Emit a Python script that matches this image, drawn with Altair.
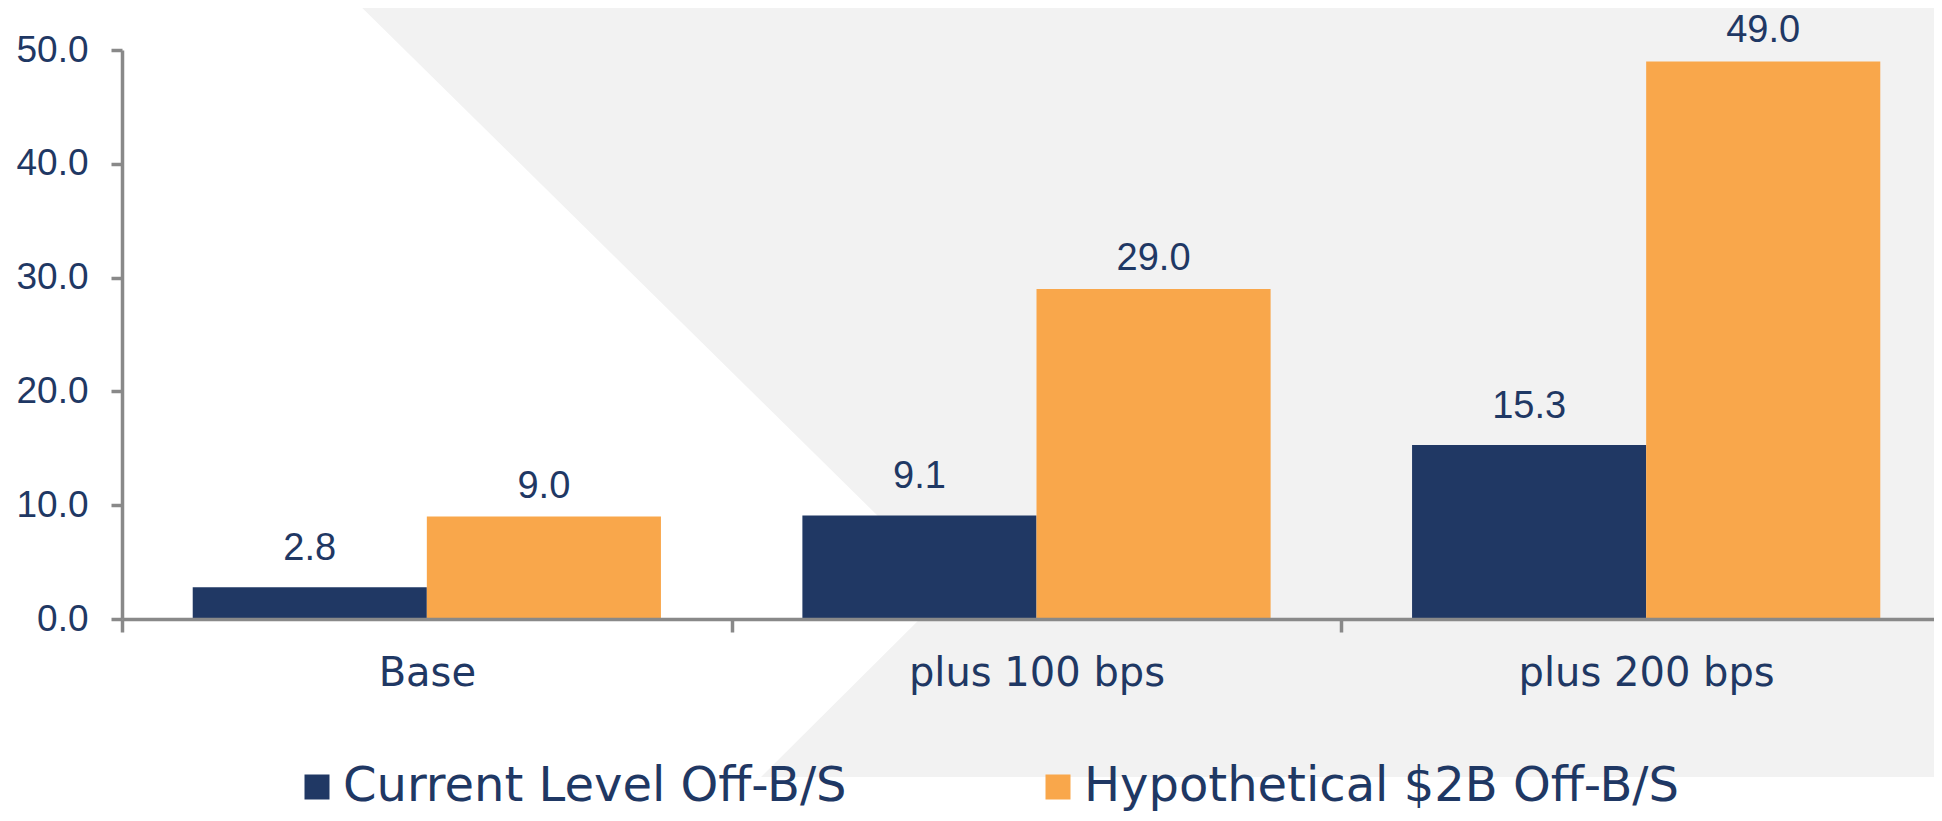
import altair as alt
import pandas as pd

categories = ["Base", "plus 100 bps", "plus 200 bps"]
series = ["Current Level Off-B/S", "Hypothetical $2B Off-B/S"]
current_vals = [2.8, 9.1, 15.3]
hypo_vals = [9.0, 29.0, 49.0]
y_ticks = [0, 10, 20, 30, 40, 50]

rows = []
for c, v1, v2 in zip(categories, current_vals, hypo_vals):
    rows.append({"cat": c, "series": series[0], "value": v1})
    rows.append({"cat": c, "series": series[1], "value": v2})
df = pd.DataFrame(rows)

NAVY = "#203864"
ORANGE = "#f9a74b"
TEXT = "#1f3864"
AXIS = "#898989"

PLOT_W = 1829
STEP = PLOT_W / 3

# decorative light-grey background shape (pixel coords relative to plot origin)
bg_polygon = [[222, -60], [2000, -60], [2000, 727], [639, 727], [829, 538], [222, -60]]
bg_feature = {
    "type": "Feature",
    "properties": {},
    "geometry": {"type": "Polygon", "coordinates": [bg_polygon]},
}
bg = (
    alt.Chart(alt.Data(values=[bg_feature]))
    .mark_geoshape(fill="#f2f2f2", strokeWidth=0, clip=False)
    .project(type="identity", scale=1, translate=[0, 0],
             clipExtent=[[-500, -500], [3000, 2000]])
)

x_enc = alt.X(
    "cat:N",
    sort=categories,
    scale=alt.Scale(paddingInner=0.232, paddingOuter=0.116),
    axis=alt.Axis(
        title=None, labelAngle=0, labelLimit=0,
        tickOffset=-STEP / 2, labelOffset=STEP / 2,
        labelFont="DejaVu Sans", labelFontSize=40, labelColor=TEXT,
        labelPadding=53, labelBaseline="alphabetic",
        tickSize=13, tickWidth=3.5, tickColor=AXIS,
        domainColor=AXIS, domainWidth=3.5, zindex=1,
    ),
)
y_enc = alt.Y(
    "value:Q",
    scale=alt.Scale(domain=[0, 50], nice=False),
    axis=alt.Axis(
        title=None, values=y_ticks, format=".1f",
        labelFont="Liberation Sans", labelFontSize=37, labelColor=TEXT,
        labelPadding=23, tickSize=11, tickWidth=3.5, tickColor=AXIS,
        domainColor=AXIS, domainWidth=3.5, grid=False, zindex=1,
    ),
)
xoff_enc = alt.XOffset(
    "series:N", sort=series,
    scale=alt.Scale(domain=series, paddingInner=0, paddingOuter=0),
)

bars = alt.Chart(df).mark_bar(strokeWidth=0).encode(
    x=x_enc,
    xOffset=xoff_enc,
    y=y_enc,
    color=alt.Color(
        "series:N",
        scale=alt.Scale(domain=series, range=[NAVY, ORANGE]),
        legend=alt.Legend(
            title=None, orient="none", legendX=171, legendY=713,
            direction="horizontal", symbolType="square", symbolSize=625,
            symbolStrokeWidth=0, labelFont="DejaVu Sans", labelFontSize=48,
            labelColor=TEXT, labelOffset=2, columnPadding=187, padding=0,
            labelLimit=0,
        ),
    ),
)

def value_labels(name, dy):
    return (
        alt.Chart(df)
        .transform_filter(alt.datum.series == name)
        .mark_text(font="Liberation Sans", fontSize=38, color=TEXT,
                   baseline="alphabetic", align="center", dy=dy)
        .encode(
            x=x_enc, xOffset=xoff_enc, y=y_enc,
            text=alt.Text("value:Q", format=".1f"),
        )
    )

chart = (
    alt.layer(bg, bars, value_labels(series[0], -27), value_labels(series[1], -19))
    .properties(
        width=PLOT_W, height=569,
        padding={"left": 114, "top": 42, "right": -17, "bottom": 194},
        autosize=alt.AutoSizeParams(type="none"),
        background="white",
    )
    .configure_view(stroke=None)
)

chart.save("out.html", embed_options={"renderer": "svg", "actions": False})
